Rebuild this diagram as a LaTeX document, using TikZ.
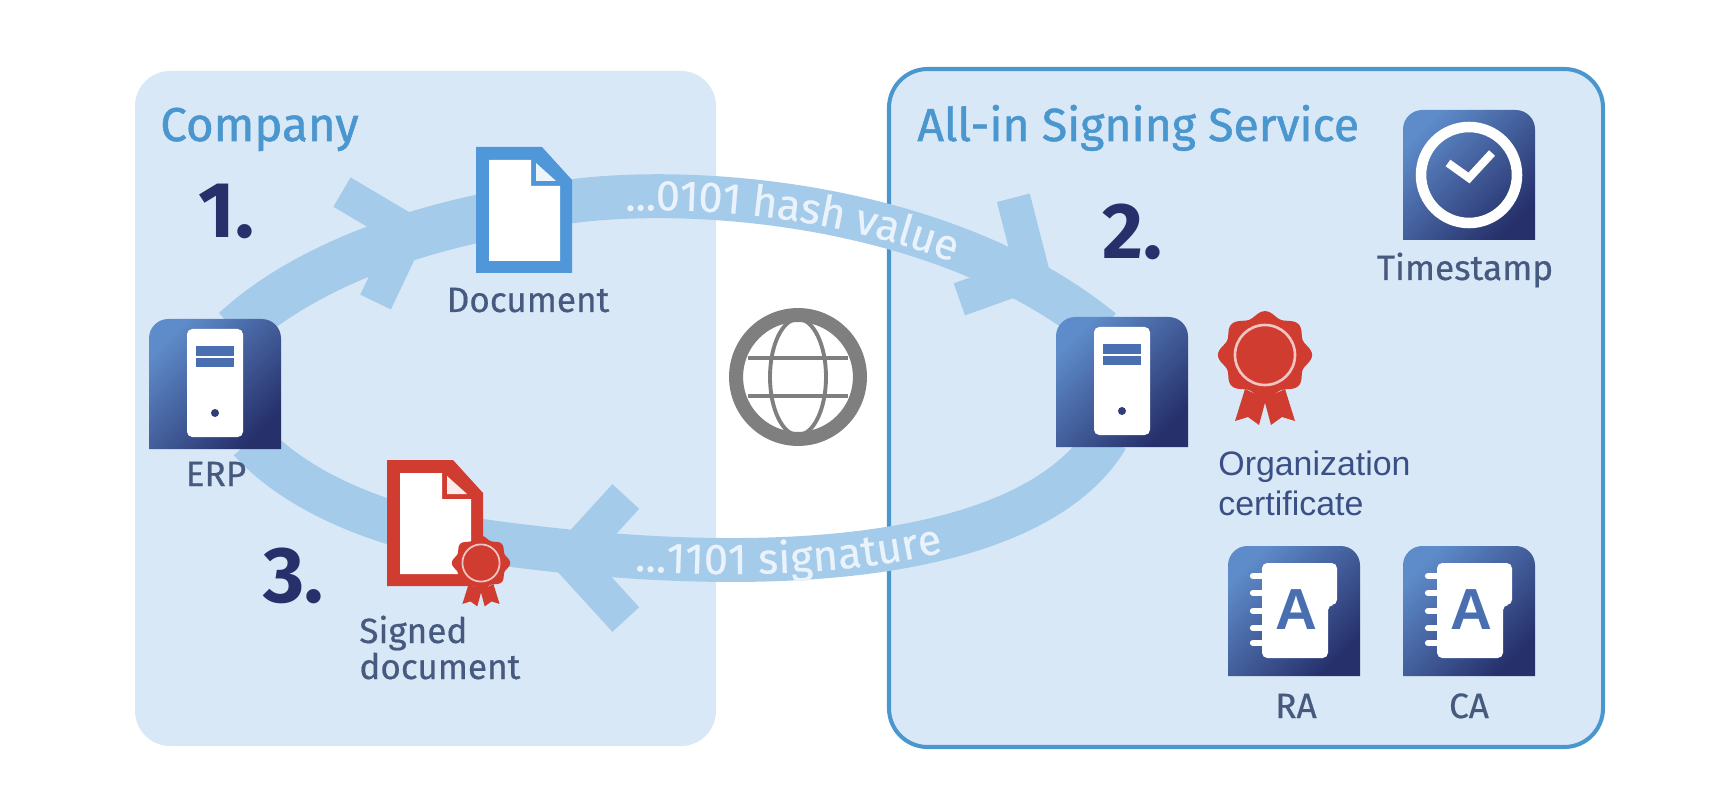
\documentclass[tikz,border=0pt]{standalone}
\usepackage{fontspec}
\usepackage{tikz}
\usetikzlibrary{calc, decorations.text}
\setmainfont{Fira Sans}
\newfontfamily\certfont{Liberation Sans}
\newfontfamily\headfont[FakeBold=1.1]{Fira Sans}
\newfontfamily\labelfont[FakeBold=0.5]{Fira Sans}
\definecolor{panelblue}{HTML}{D9E8F7}
\definecolor{edgeblue}{HTML}{4A96CE}
\definecolor{bandblue}{HTML}{A5CBEB}
\definecolor{docblue}{HTML}{4F97D8}
\definecolor{sealred}{HTML}{D13C30}
\definecolor{tilelight}{HTML}{5E8BC9}
\definecolor{tiledark}{HTML}{26306B}
\definecolor{slotblue}{HTML}{4A6FB0}
\definecolor{numblue}{HTML}{28306B}
\definecolor{labelgray}{HTML}{46597F}
\definecolor{certblue}{HTML}{3A4F85}
\definecolor{bandtext}{HTML}{EAF3FB}
\definecolor{globegray}{HTML}{7F7F7F}
\tikzstyle{iconbox} = [rectangle, minimum width=75pt, minimum height=74.5pt, inner sep=0pt, outer sep=0pt]
\tikzstyle{docbox} = [rectangle, minimum width=55pt, minimum height=71.7pt, inner sep=0pt, outer sep=0pt]
\tikzstyle{band} = [draw=bandblue, line width=25pt]
\tikzstyle{title} = [anchor=base west, inner sep=0pt, text=edgeblue, font=\headfont\fontsize{27}{27}\selectfont]
\tikzstyle{numeral} = [anchor=base west, inner sep=0pt, text=numblue, font=\fontsize{45}{45}\selectfont\bfseries]
\tikzstyle{caption} = [anchor=base, inner sep=0pt, text=labelgray, font=\labelfont\fontsize{20}{20}\selectfont]
\tikzstyle{certlabel} = [anchor=base west, inner sep=0pt, text=certblue, font=\certfont\fontsize{19.3}{19.3}\selectfont]
\tikzset{
  tile/.pic={
    \shade[top color=tilelight, bottom color=tiledark, shading angle=45]
      (-66,65) [rounded corners=11pt] -- (-66,-65) -- (66,-65) [sharp corners] -- (66,65) -- cycle;
  },
  servericon/.pic={
    \pic {tile};
    \fill[white, rounded corners=3pt] (-28,-55) rectangle (28,53);
    \fill[slotblue] (-19,-38) rectangle (19,-28);
    \fill[slotblue] (-19,-26) rectangle (19,-17);
    \fill[numblue!80!slotblue] (0,29) circle (4);
  },
  clockicon/.pic={
    \pic {tile};
    \draw[white, line width=6pt] (0,0) circle (48);
    \draw[white, line width=4.6pt] (-21,-12) -- (0,3) -- (23,-22);
  },
  bookicon/.pic={
    \pic {tile};
    \fill[white, rounded corners=3pt] (-32,-48) -- (43,-48) -- (43,-6) -- (34,-6) -- (34,47) -- (-32,47) -- cycle;
    \foreach \ringy in {-35,-18,0,17,32}
      \draw[white, line width=3.6pt, line cap=round] (-41,\ringy) -- (-30,\ringy);
    \node[inner sep=0pt, text=slotblue, font=\certfont\bfseries\fontsize{33}{33}\selectfont] at (2,-1) {A};
  },
  docicon/.pic={
    \fill[#1] (-48,-63) -- (18,-63) -- (48,-30) -- (48,63) -- (-48,63) -- cycle;
    \fill[white] (-35,-50) -- (7,-50) -- (7,-24) -- (36,-24) -- (36,51) -- (-35,51) -- cycle;
    \fill[white!90!#1] (12,-47) -- (12,-29) -- (32,-29) -- cycle;
  },
  sealicon/.pic={
    \fill[sealred] (-20,34) -- (-30,66) -- (-17,62) -- (-6,70) -- (1,44) -- cycle;
    \fill[sealred] (20,34) -- (30,66) -- (17,62) -- (6,70) -- (-1,44) -- cycle;
    \fill[sealred] plot[domain=0:360, samples=121, smooth, variable=\t]
      ({44*(1+.07*cos(8*\t))*cos(\t)}, {41*(1+.07*cos(8*\t))*sin(\t)}) -- cycle;
    \draw[white!70!sealred, line width=#1] (0,0) circle (30);
  },
  chevron/.pic={
    \fill[bandblue] (0,0) -- (-63,69) -- (-88,46) -- (-46,0) -- (-88,-46) -- (-63,-69) -- cycle;
  }
}
\begin{document}
\begin{tikzpicture}[x=0.02cm, y=-0.02cm]
\useasboundingbox (0,0) rectangle (1710,800);
\fill[panelblue, rounded corners=20pt] (135,71) rectangle (716,746);
\draw[edgeblue, fill=panelblue, line width=2.3pt, rounded corners=22pt] (889,69) rectangle (1603,747);

\node (erp) [iconbox] at (215,384) {};
\node (srv) [iconbox] at (1122,382) {};
\node (doc) [docbox] at (524,210) {};
\node (signed) [docbox] at (435,523) {};
\node (stamp) [iconbox] at (1469,175) {};
\node (ra) [iconbox] at (1294,611) {};
\node (ca) [iconbox] at (1469,611) {};
\node (cert) [circle, minimum size=48pt, inner sep=0pt] at (1265,355) {};
\node (globe) [circle, draw=globegray, line width=8pt, minimum size=70.5pt, inner sep=0pt, fill=white] at (798,377) {};

\draw [band, line width=27pt] ($(erp.north)+(20,12)$) .. controls (300,270) and (410,228) .. (doc.center);
\draw [band] (doc.center) .. controls (640,180) and (930,190) .. ($(srv.north)+(-20,14)$);
\draw [band] ($(srv.south)+(-15,-10)$) .. controls (1040,550) and (800,592) .. ($(signed.center)+(0,11)$);
\draw [band] ($(signed.center)+(0,11)$) .. controls (370,520) and (295,490) .. ($(erp.south)+(35,-9)$);
\pic [rotate=17] at (431,225) {chevron};
\pic [rotate=-28] at (1053,284) {chevron};
\pic [rotate=180, scale=1.07] at (545,558) {chevron};

\path [decorate, decoration={text along path, text align={align=left, left indent=58pt}, raise=-8pt,
  text={|\labelfont\fontsize{24.5}{24.5}\selectfont\color{bandtext}|...0101 hash value}}]
  (doc.center) .. controls (640,180) and (930,190) .. ($(srv.north)+(-20,14)$);
\path [decorate, decoration={text along path, text align={align=left, left indent=115pt}, raise=-8pt,
  text={|\labelfont\fontsize{24.5}{24.5}\selectfont\color{bandtext}|...1101 signature}}]
  ($(signed.center)+(0,11)$) .. controls (800,592) and (1040,550) .. ($(srv.south)+(-15,-10)$);

\pic at (erp) {servericon};
\pic at (srv) {servericon};
\pic at (stamp) {clockicon};
\pic at (ra) {bookicon};
\pic at (ca) {bookicon};
\pic at (doc) {docicon=docblue};
\pic at (signed) {docicon=sealred};
\pic [scale=.62] at (481,563) {sealicon=1pt};
\pic at (cert) {sealicon=1.5pt};

\draw[globegray, line width=2.2pt] (globe.center) ellipse (28 and 58);
\draw[globegray, line width=2.2pt] ($(globe.center)+(-50,-19)$) -- ($(globe.center)+(50,-19)$);
\draw[globegray, line width=2.2pt] ($(globe.center)+(-50,19)$) -- ($(globe.center)+(50,19)$);

\node (company) [title] at (160,141) {Company};
\node (service) [title, font=\headfont\fontsize{26.4}{26.4}\selectfont] at (917,141) {All-in Signing Service};
\node (one) [numeral] at (198,238) {1.};
\node (two) [numeral] at (1102,259) {2.};
\node (three) [numeral] at (263,602) {3.};
\node (doclabel) [caption] at (528,312) {Document};
\node (erplabel) [caption] at (216,486) {ERP};
\node (signedlabel) [caption, anchor=base west] at (359,643) {Signed};
\node (signeddoc) [caption, anchor=base west] at (359,679) {document};
\node (stamplabel) [caption] at (1465,280) {Timestamp};
\node (certlabel) [certlabel] at (1218,475) {Organization};
\node (certlabeltwo) [certlabel] at (1218,515) {certificate};
\node (ralabel) [caption] at (1296,718) {RA};
\node (calabel) [caption] at (1469,718) {CA};
\end{tikzpicture}
\end{document}
